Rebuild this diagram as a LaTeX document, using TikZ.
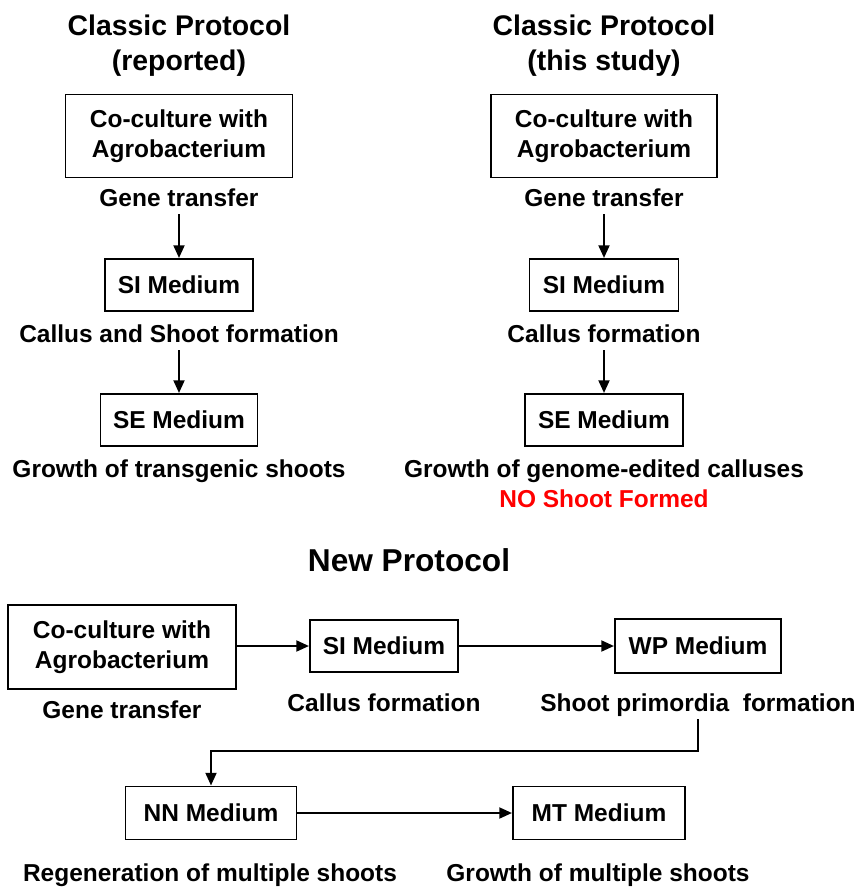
\documentclass[tikz,border=0pt]{standalone}
\usepackage{fontspec}
\setmainfont{Liberation Sans}
\usepackage{tikz}
\usetikzlibrary{arrows.meta, positioning}
\definecolor{noshootred}{RGB}{255,0,0}

\begin{document}
\begin{tikzpicture}[
    x=0.025cm, y=-0.025cm,
    box/.style={draw, line width=1.3pt, align=center, inner sep=0pt,
      font=\fontsize{17.4pt}{21.3pt}\selectfont\bfseries},
    lbl/.style={align=center, inner sep=3pt, text height=0.75em, text depth=0.2em,
      font=\fontsize{17.4pt}{21.3pt}\selectfont\bfseries},
    ttl/.style={align=center, font=\fontsize{20.2pt}{24.8pt}\selectfont\bfseries},
    arr/.style={-{Triangle[length=0.32cm, width=0.27cm]}, line width=1.8pt},
  ]
  \useasboundingbox (0,0) rectangle (858,887);

  % classic protocol, reported
  \node[ttl] (ltitle) at (179,46) {Classic Protocol\\(reported)};
  \node[box, minimum width=5.675cm, minimum height=2.075cm] (lco) at (179,136) {Co-culture with\\Agrobacterium};
  \node[lbl] (lgene) at (179,203) {Gene transfer};
  \node[box, minimum width=3.7cm, minimum height=1.3cm] (lsi) at (179,285) {SI Medium};
  \node[lbl] (lcall) at (179,339) {Callus and Shoot formation};
  \node[box, minimum width=3.925cm, minimum height=1.3cm] (lse) at (179,420) {SE Medium};
  \node[lbl] (lgrow) at (179,474) {Growth of transgenic shoots};
  \draw[arr] (lgene) -- (lsi);
  \draw[arr] (lcall) -- (lse);

  % classic protocol, this study
  \node[ttl] (rtitle) at (604,46) {Classic Protocol\\(this study)};
  \node[box, minimum width=5.65cm, minimum height=2.075cm] (rco) at (604,136) {Co-culture with\\Agrobacterium};
  \node[lbl] (rgene) at (604,203) {Gene transfer};
  \node[box, minimum width=3.725cm, minimum height=1.3cm] (rsi) at (604,285) {SI Medium};
  \node[lbl] (rcall) at (604,339) {Callus formation};
  \node[box, minimum width=3.95cm, minimum height=1.3cm] (rse) at (604,420) {SE Medium};
  \node[lbl] (rgrow) at (604,474) {Growth of genome-edited calluses};
  \node[lbl, text=noshootred] (rnoshoot) at (604,504) {NO Shoot Formed};
  \draw[arr] (rgene) -- (rsi);
  \draw[arr] (rcall) -- (rse);

  % new protocol
  \node[ttl, font=\fontsize{22.5pt}{27pt}\selectfont\bfseries] (ntitle) at (409,560) {New Protocol};
  \node[box, minimum width=5.7cm, minimum height=2.1cm] (nco) at (122,647) {Co-culture with\\Agrobacterium};
  \node[lbl] (ngene) at (122,715) {Gene transfer};
  \node[box, minimum width=3.7cm, minimum height=1.3cm] (nsi) at (384,646) {SI Medium};
  \node[lbl] (ncall) at (384,708) {Callus formation};
  \node[box, minimum width=4.15cm, minimum height=1.35cm] (nwp) at (698,646) {WP Medium};
  \node[lbl] (nshoot) at (698,708) {Shoot primordia~ formation};
  \node[box, minimum width=4.275cm, minimum height=1.325cm] (nnn) at (211,813) {NN Medium};
  \node[lbl] (nregen) at (210,878) {Regeneration of multiple shoots};
  \node[box, minimum width=4.3cm, minimum height=1.325cm] (nmt) at (599,813) {MT Medium};
  \node[lbl] (nmtgrow) at (598,878) {Growth of multiple shoots};
  \draw[arr] (nco.east |- nsi) -- (nsi);
  \draw[arr] (nsi) -- (nwp);
  \draw[arr] (nshoot.south) -- ++(0,32) -| (nnn.north);
  \draw[arr] (nnn) -- (nmt);
\end{tikzpicture}
\end{document}
